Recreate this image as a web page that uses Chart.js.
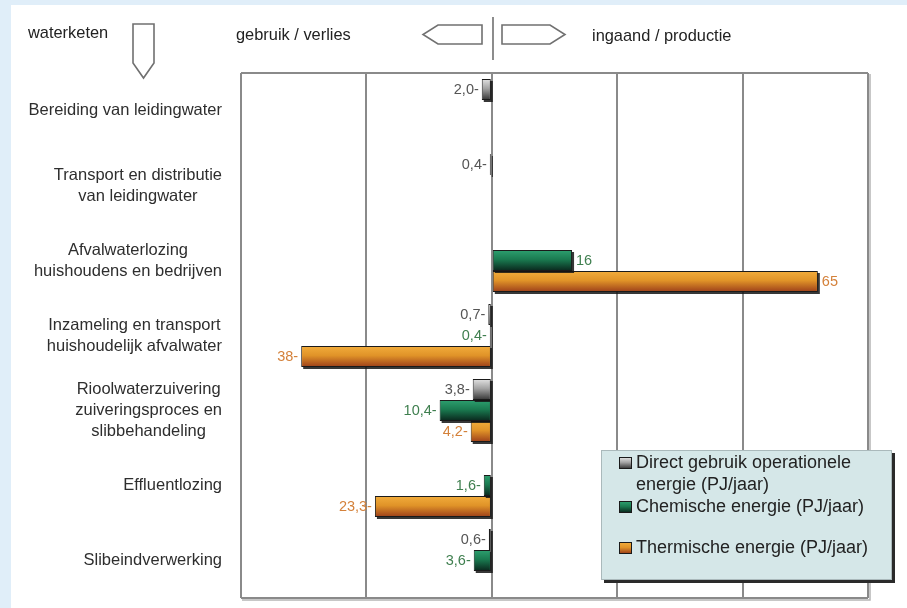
<!DOCTYPE html>
<html>
<head>
<meta charset="utf-8">
<script src="https://cdn.jsdelivr.net/npm/chart.js@4.4.1/dist/chart.umd.min.js"></script>
<style>
  html, body { margin: 0; padding: 0; background: #e0eef9; }
  #wrap { width: 907px; height: 608px; position: relative; }
  canvas { display: block; }
</style>
</head>
<body>
<div id="wrap"><canvas id="chart" width="907" height="608"></canvas></div>
<script>
// Schakels in de waterketen (y-as)
const categories = [
  ["Bereiding van leidingwater"],
  ["Transport en distributie", "van leidingwater"],
  ["Afvalwaterlozing", "huishoudens en bedrijven"],
  ["Inzameling en transport", "huishoudelijk afvalwater"],
  ["Rioolwaterzuivering", "zuiveringsproces en", "slibbehandeling"],
  ["Effluentlozing"],
  ["Slibeindverwerking"]
];

// Energie in PJ/jaar; negatief = gebruik / verlies, positief = ingaand / productie
const directUse = [-2.0, -0.4, null, -0.7, -3.8, null, -0.6];
const chemical  = [null, null, 16, -0.4, -10.4, -1.6, -3.6];
const thermal   = [null, null, 65, -38, -4.2, -23.3, null];

const legendLines = [
  ["Direct gebruik operationele", "energie (PJ/jaar)"],
  ["Chemische energie (PJ/jaar)"],
  ["Thermische energie (PJ/jaar)"]
];

const xTicks = [-50, -25, 0, 25, 50, 75];

const FONT = '"Liberation Sans", Arial, Helvetica, sans-serif';

const seriesStyle = [
  { mid: '#9c9c9c', stops: ['#dcdcdc', '#a2a2a2', '#3e3e3e'], text: '#555555' },
  { mid: '#1b7a52', stops: ['#2b9c6c', '#1a7a50', '#0b2d21'], text: '#3f7f4f' },
  { mid: '#df9228', stops: ['#f0aa3a', '#e09328', '#a2461b'], text: '#d4813a' }
];

function fmt(v) {
  const a = Math.abs(v);
  const s = (Number.isInteger(v) && a >= 10) ? String(a) : a.toFixed(1);
  return s.replace('.', ',');
}

function barRect(el) {
  const p = el.getProps(['x', 'y', 'base', 'height'], true);
  const left = Math.min(p.x, p.base), right = Math.max(p.x, p.base);
  return { left, right, top: p.y - p.height / 2, bottom: p.y + p.height / 2 };
}

function fillGradient(ctx, x, y, w, h, stops) {
  const g = ctx.createLinearGradient(0, y, 0, y + h);
  g.addColorStop(0, stops[0]);
  g.addColorStop(0.45, stops[1]);
  g.addColorStop(1, stops[2]);
  ctx.fillStyle = g;
  ctx.fillRect(x, y, w, h);
}

const pagePlugin = {
  id: 'page',
  beforeDraw(chart) {
    const ctx = chart.ctx;
    ctx.save();
    ctx.fillStyle = '#e0eef9';
    ctx.fillRect(0, 0, chart.width, chart.height);
    ctx.fillStyle = '#ffffff';
    ctx.fillRect(11, 5, chart.width - 11, chart.height - 5);

    // kop: teksten en pijlsymbolen
    ctx.fillStyle = '#222';
    ctx.font = '16.4px ' + FONT;
    ctx.textBaseline = 'middle';
    ctx.textAlign = 'left';
    ctx.fillText('waterketen', 28, 33);
    ctx.fillText('gebruik / verlies', 236, 35);
    ctx.fillText('ingaand / productie', 592, 36);

    ctx.strokeStyle = '#707070';
    ctx.lineWidth = 1.6;
    ctx.beginPath();
    ctx.moveTo(133, 24); ctx.lineTo(154, 24); ctx.lineTo(154, 63);
    ctx.lineTo(143.5, 78); ctx.lineTo(133, 63); ctx.closePath();
    ctx.stroke();

    ctx.beginPath();
    ctx.moveTo(482, 25); ctx.lineTo(482, 44); ctx.lineTo(438, 44);
    ctx.lineTo(423, 34.5); ctx.lineTo(438, 25); ctx.closePath();
    ctx.stroke();

    ctx.beginPath();
    ctx.moveTo(502, 25); ctx.lineTo(550, 25); ctx.lineTo(565, 34.5);
    ctx.lineTo(550, 44); ctx.lineTo(502, 44); ctx.closePath();
    ctx.stroke();

    ctx.beginPath();
    ctx.moveTo(493, 17); ctx.lineTo(493, 60);
    ctx.stroke();
    ctx.restore();
  },
  beforeDatasetsDraw(chart) {
    const { ctx, chartArea: a } = chart;
    ctx.save();
    ctx.strokeStyle = '#8a8a8a';
    ctx.lineWidth = 2;
    ctx.beginPath();
    ctx.moveTo(a.left, a.top); ctx.lineTo(a.right, a.top);
    ctx.moveTo(a.left, a.bottom); ctx.lineTo(a.right, a.bottom);
    ctx.stroke();
    ctx.strokeStyle = 'rgba(120,120,120,0.55)';
    ctx.lineWidth = 1.5;
    ctx.beginPath();
    ctx.moveTo(a.right + 2, a.top + 1); ctx.lineTo(a.right + 2, a.bottom + 2);
    ctx.lineTo(a.left + 1, a.bottom + 2);
    ctx.stroke();
    ctx.restore();
  },
  beforeDatasetDraw(chart, args) {
    // schaduw onder elke balk
    const ctx = chart.ctx;
    const meta = args.meta;
    ctx.save();
    ctx.fillStyle = 'rgba(20,20,20,0.85)';
    meta.data.forEach((el, i) => {
      if (chart.data.datasets[args.index].data[i] == null) return;
      const r = barRect(el);
      ctx.fillRect(r.left + 2, r.top + 2, r.right - r.left, r.bottom - r.top);
    });
    ctx.restore();
  },
  afterDatasetDraw(chart, args) {
    // kleurverloop in de balken
    const ctx = chart.ctx;
    const st = seriesStyle[args.index];
    ctx.save();
    args.meta.data.forEach((el, i) => {
      if (chart.data.datasets[args.index].data[i] == null) return;
      const r = barRect(el);
      const w = r.right - r.left - 2, h = r.bottom - r.top - 2;
      if (w <= 0) return;
      fillGradient(ctx, r.left + 1, r.top + 1, w, h, st.stops);
    });
    ctx.restore();
  },
  afterDatasetsDraw(chart) {
    const ctx = chart.ctx;
    ctx.save();
    // waardelabels
    ctx.font = '14.5px ' + FONT;
    ctx.textBaseline = 'middle';
    chart.data.datasets.forEach((ds, di) => {
      const meta = chart.getDatasetMeta(di);
      ctx.fillStyle = seriesStyle[di].text;
      ds.data.forEach((v, i) => {
        if (v == null) return;
        const el = meta.data[i];
        const p = el.getProps(['x', 'y'], true);
        if (v < 0) {
          ctx.textAlign = 'right';
          ctx.fillText(fmt(v) + '-', p.x - 3, p.y + 0.5);
        } else {
          ctx.textAlign = 'left';
          ctx.fillText(fmt(v), p.x + 4, p.y + 0.5);
        }
      });
    });

    // categorielabels: regels onderling gecentreerd, blok rechts uitgelijnd
    const yScale = chart.scales.y;
    ctx.fillStyle = '#2e2e2e';
    ctx.font = '16.5px ' + FONT;
    ctx.textAlign = 'center';
    const lh = 21;
    categories.forEach((lines, i) => {
      const yc = yScale.getPixelForTick(i);
      const bw = Math.max(...lines.map(l => ctx.measureText(l).width));
      const cx = 222 - bw / 2;
      lines.forEach((l, k) => {
        ctx.fillText(l, cx, yc - (lines.length - 1) * lh / 2 + k * lh);
      });
    });
    ctx.restore();
  },
  afterDraw(chart) {
    // legenda
    const ctx = chart.ctx;
    const bx = 601, by = 450, bw = 291, bh = 130;
    ctx.save();
    ctx.fillStyle = '#2a2a2a';
    ctx.fillRect(bx + 3, by + 3, bw, bh);
    ctx.fillStyle = '#d5e7e8';
    ctx.fillRect(bx, by, bw, bh);
    ctx.strokeStyle = '#aab9bb';
    ctx.lineWidth = 1;
    ctx.strokeRect(bx + 0.5, by + 0.5, bw - 1, bh - 1);

    const itemY = [463, 507, 548];
    ctx.font = '18px ' + FONT;
    ctx.textBaseline = 'middle';
    ctx.textAlign = 'left';
    legendLines.forEach((lines, i) => {
      const y = itemY[i];
      ctx.fillStyle = '#1a1a1a';
      ctx.fillRect(619, y - 6, 13, 12);
      fillGradient(ctx, 620, y - 5, 11, 10, seriesStyle[i].stops);
      ctx.fillStyle = '#222';
      lines.forEach((l, k) => ctx.fillText(l, 636, y + k * 22));
    });
    ctx.restore();
  }
};

const datasets = [directUse, chemical, thermal].map((d, i) => ({
  label: legendLines[i].join(' '),
  data: d,
  backgroundColor: seriesStyle[i].mid,
  borderColor: '#1a1a1a',
  borderWidth: 1,
  borderSkipped: false,
  barPercentage: 1.0,
  categoryPercentage: 0.84
}));

new Chart(document.getElementById('chart'), {
  type: 'bar',
  data: { labels: categories.map(c => c.join(' ')), datasets },
  options: {
    indexAxis: 'y',
    responsive: false,
    animation: false,
    devicePixelRatio: 1,
    layout: { padding: { left: 241, right: 39, top: 73, bottom: 10 } },
    plugins: { legend: { display: false }, tooltip: { enabled: false } },
    scales: {
      x: {
        type: 'linear',
        min: xTicks[0],
        max: xTicks[xTicks.length - 1],
        afterBuildTicks(scale) { scale.ticks = xTicks.map(v => ({ value: v })); },
        ticks: { display: false },
        border: { display: false },
        grid: { color: '#8a8a8a', lineWidth: 2, drawTicks: false }
      },
      y: {
        display: false
      }
    }
  },
  plugins: [pagePlugin]
});
</script>
</body>
</html>
